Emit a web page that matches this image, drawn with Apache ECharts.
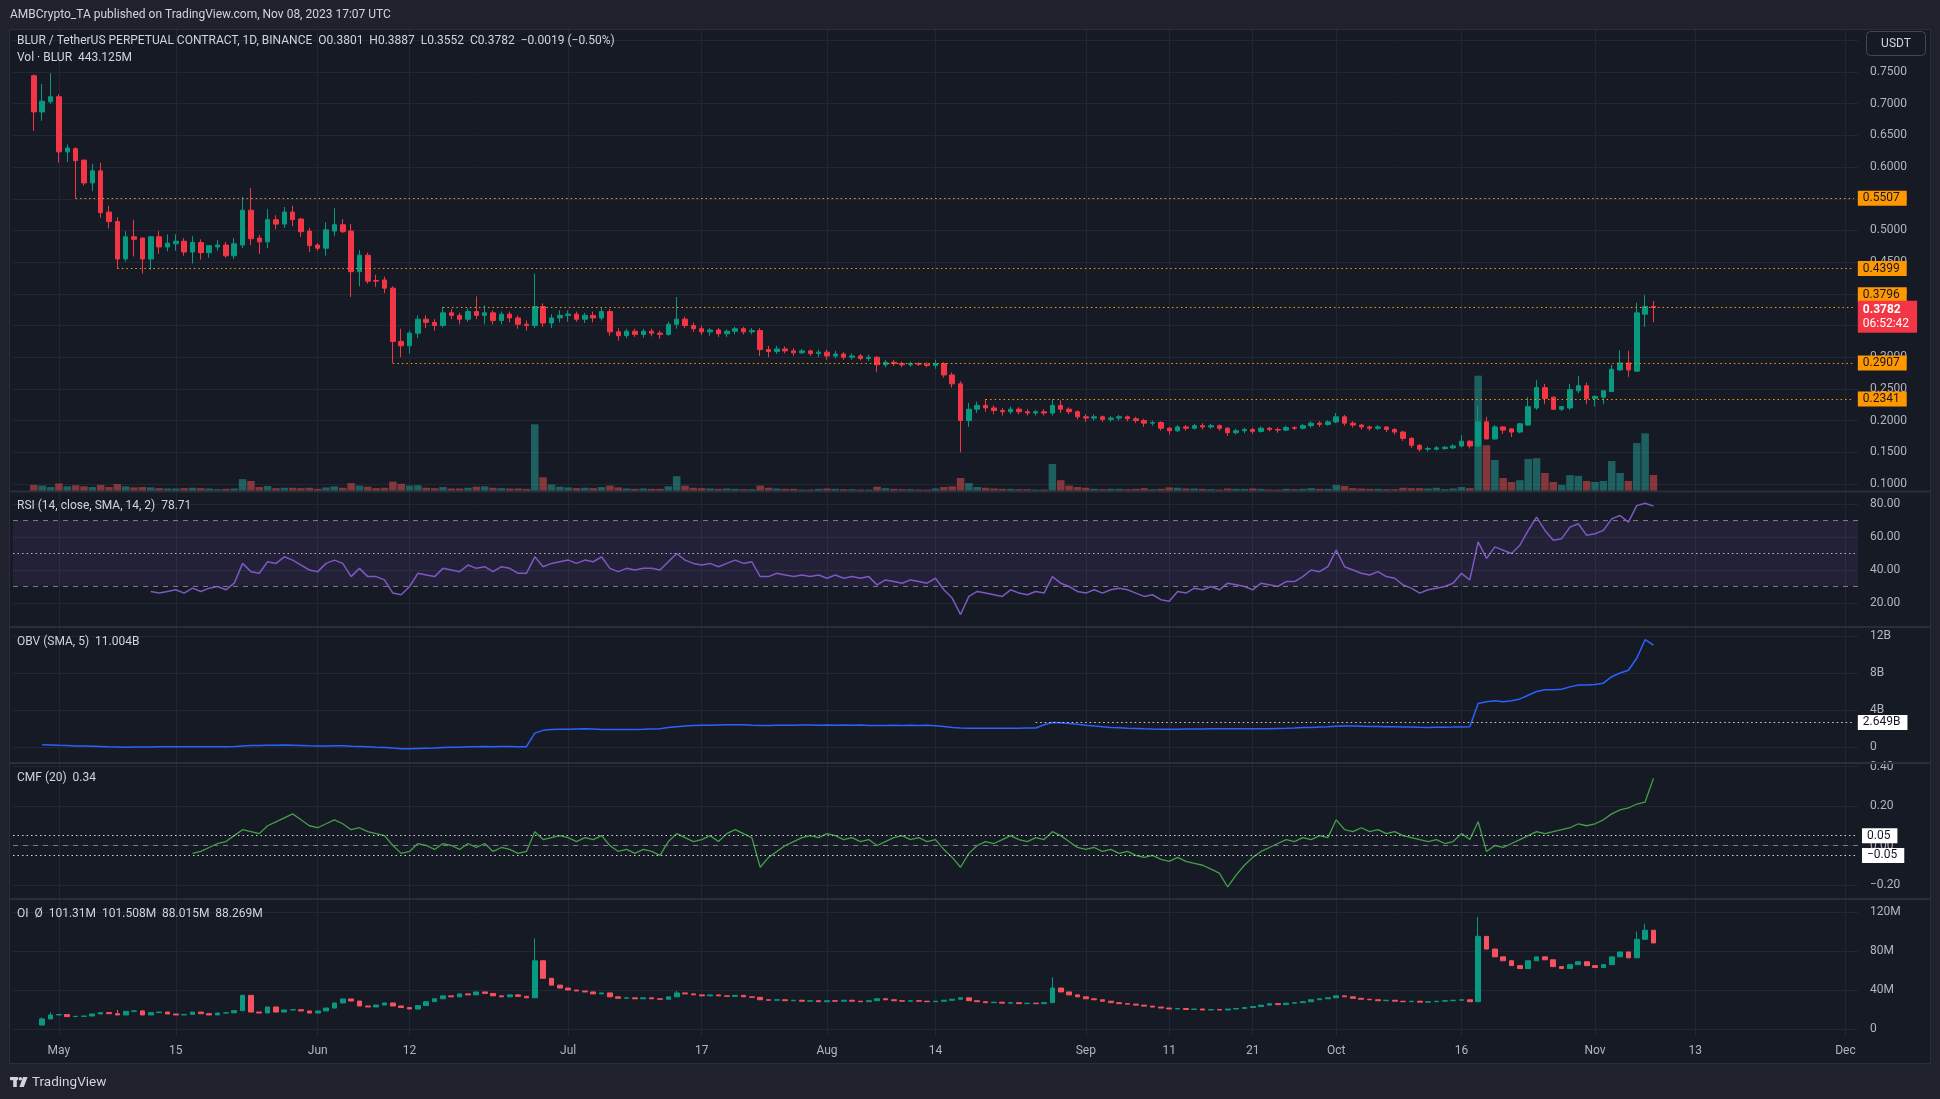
<!DOCTYPE html>
<html><head><meta charset="utf-8">
<script src="https://cdn.jsdelivr.net/npm/echarts@6/dist/echarts.min.js"></script>
<style>html,body{margin:0;padding:0;background:#1f222d;}#c{width:1940px;height:1099px;}</style>
</head><body><div id="c"></div>
<script>
// ---------- axis / category data ----------
const START_DATE = '2023-04-26';
const CATEGORY_COUNT = 221;       // Apr 26 .. Dec 2
const LEAD = 2;                   // empty days before first candle (Apr 28)
const tickLabels = {
  '2023-05-01':'May','2023-05-15':'15','2023-06-01':'Jun','2023-06-12':'12',
  '2023-07-01':'Jul','2023-07-17':'17','2023-08-01':'Aug','2023-08-14':'14',
  '2023-09-01':'Sep','2023-09-11':'11','2023-09-21':'21','2023-10-01':'Oct',
  '2023-10-16':'16','2023-11-01':'Nov','2023-11-13':'13','2023-12-01':'Dec'
};

// ---------- price candles [open, close, low, high], Apr 28 .. Nov 8 ----------
const ohlcApr = [[0.744,0.687,0.657,0.746],[0.687,0.704,0.673,0.731],[0.703,0.711,0.700,0.748]];
const ohlcMay = [[0.711,0.624,0.607,0.715],[0.624,0.630,0.608,0.636],[0.629,0.610,0.5507,0.631],[0.611,0.575,0.571,0.611],[0.575,0.594,0.562,0.605],
 [0.594,0.528,0.520,0.607],[0.529,0.514,0.503,0.539],[0.514,0.455,0.4399,0.521],[0.455,0.490,0.451,0.499],[0.490,0.486,0.459,0.517],
 [0.488,0.455,0.432,0.489],[0.455,0.490,0.438,0.491],[0.490,0.474,0.463,0.499],[0.474,0.480,0.467,0.494],[0.479,0.483,0.468,0.494],
 [0.483,0.466,0.460,0.488],[0.466,0.481,0.448,0.491],[0.481,0.465,0.454,0.486],[0.465,0.476,0.457,0.477],[0.474,0.477,0.468,0.485],
 [0.477,0.460,0.457,0.482],[0.460,0.479,0.455,0.488],[0.477,0.532,0.472,0.553],[0.532,0.487,0.477,0.567],[0.488,0.482,0.463,0.493],
 [0.482,0.517,0.472,0.534],[0.517,0.510,0.502,0.524],[0.510,0.529,0.504,0.537],[0.529,0.517,0.507,0.539],[0.518,0.498,0.490,0.520],
 [0.499,0.476,0.466,0.504]];
const ohlcJun = [[0.477,0.472,0.468,0.480],[0.472,0.501,0.460,0.513],[0.499,0.509,0.491,0.535],[0.509,0.498,0.496,0.518],[0.499,0.435,0.395,0.510],
 [0.435,0.461,0.412,0.469],[0.461,0.420,0.416,0.465],[0.421,0.420,0.411,0.430],[0.422,0.409,0.401,0.427],[0.409,0.325,0.2907,0.412],
 [0.325,0.318,0.300,0.345],[0.318,0.338,0.306,0.342],[0.338,0.360,0.330,0.366],[0.360,0.355,0.346,0.366],[0.355,0.350,0.342,0.360],
 [0.350,0.370,0.347,0.3796],[0.370,0.366,0.360,0.376],[0.366,0.360,0.352,0.370],[0.360,0.372,0.356,0.377],[0.372,0.366,0.360,0.396],
 [0.366,0.370,0.352,0.382],[0.370,0.358,0.352,0.374],[0.358,0.368,0.352,0.372],[0.368,0.362,0.355,0.372],[0.362,0.352,0.345,0.366],
 [0.352,0.350,0.342,0.358],[0.350,0.380,0.346,0.432],[0.380,0.354,0.348,0.385],[0.354,0.362,0.346,0.368],[0.362,0.366,0.355,0.374]];
const ohlcJul = [[0.366,0.368,0.356,0.374],[0.368,0.360,0.356,0.372],[0.360,0.366,0.354,0.370],[0.366,0.362,0.355,0.372],[0.362,0.372,0.358,0.378],
 [0.372,0.340,0.334,0.376],[0.340,0.334,0.326,0.346],[0.334,0.341,0.330,0.345],[0.341,0.336,0.332,0.345],[0.336,0.341,0.331,0.345],
 [0.341,0.338,0.333,0.345],[0.338,0.336,0.329,0.342],[0.336,0.352,0.334,0.356],[0.352,0.360,0.345,0.395],[0.360,0.350,0.346,0.364],
 [0.350,0.345,0.340,0.355],[0.345,0.340,0.335,0.350],[0.340,0.343,0.334,0.346],[0.343,0.337,0.332,0.346],[0.337,0.341,0.332,0.344],
 [0.341,0.345,0.336,0.348],[0.345,0.340,0.336,0.348],[0.340,0.342,0.336,0.346],[0.342,0.312,0.302,0.346],[0.312,0.309,0.300,0.318],
 [0.309,0.313,0.305,0.318],[0.313,0.310,0.306,0.317],[0.310,0.307,0.302,0.314],[0.307,0.310,0.305,0.313],[0.310,0.306,0.302,0.312],
 [0.306,0.308,0.300,0.312]];
const ohlcAug = [[0.308,0.302,0.296,0.312],[0.302,0.305,0.298,0.310],[0.305,0.300,0.296,0.308],[0.300,0.302,0.296,0.306],[0.302,0.298,0.295,0.305],
 [0.298,0.300,0.294,0.304],[0.300,0.288,0.277,0.302],[0.288,0.292,0.284,0.296],[0.292,0.290,0.286,0.296],[0.290,0.288,0.284,0.293],
 [0.288,0.290,0.285,0.293],[0.290,0.289,0.286,0.292],[0.289,0.287,0.284,0.292],[0.287,0.290,0.282,0.296],[0.290,0.272,0.268,0.292],
 [0.272,0.258,0.252,0.276],[0.258,0.200,0.150,0.262],[0.200,0.218,0.190,0.228],[0.218,0.224,0.212,0.230],[0.224,0.220,0.214,0.2341],
 [0.220,0.216,0.210,0.224],[0.216,0.214,0.208,0.220],[0.214,0.218,0.210,0.222],[0.218,0.214,0.210,0.221],[0.214,0.212,0.208,0.218],
 [0.212,0.214,0.208,0.217],[0.214,0.212,0.208,0.218],[0.212,0.224,0.208,0.234],[0.224,0.218,0.212,0.232],[0.218,0.214,0.210,0.221],
 [0.214,0.206,0.202,0.216]];
const ohlcSep = [[0.206,0.204,0.198,0.210],[0.204,0.206,0.200,0.210],[0.206,0.202,0.198,0.208],[0.202,0.204,0.198,0.207],[0.204,0.206,0.200,0.209],
 [0.206,0.203,0.199,0.208],[0.203,0.200,0.196,0.206],[0.200,0.196,0.190,0.203],[0.196,0.197,0.192,0.200],[0.197,0.188,0.184,0.199],
 [0.188,0.184,0.178,0.190],[0.184,0.190,0.182,0.193],[0.190,0.188,0.184,0.193],[0.188,0.192,0.186,0.195],[0.192,0.190,0.186,0.196],
 [0.190,0.192,0.187,0.195],[0.192,0.188,0.184,0.194],[0.188,0.181,0.176,0.190],[0.181,0.184,0.178,0.187],[0.184,0.186,0.180,0.189],
 [0.186,0.183,0.179,0.189],[0.183,0.188,0.181,0.191],[0.188,0.186,0.183,0.190],[0.186,0.185,0.181,0.189],[0.185,0.189,0.183,0.192],
 [0.189,0.188,0.185,0.191],[0.188,0.192,0.186,0.195],[0.192,0.196,0.189,0.199],[0.196,0.194,0.190,0.199],[0.194,0.198,0.192,0.201]];
const ohlcOct = [[0.198,0.206,0.196,0.212],[0.206,0.196,0.192,0.209],[0.196,0.193,0.189,0.199],[0.193,0.190,0.186,0.195],[0.190,0.188,0.184,0.192],
 [0.188,0.190,0.185,0.193],[0.190,0.186,0.182,0.191],[0.186,0.182,0.178,0.188],[0.182,0.172,0.168,0.184],[0.172,0.161,0.157,0.174],
 [0.161,0.155,0.151,0.163],[0.155,0.156,0.151,0.159],[0.155,0.157,0.153,0.160],[0.156,0.158,0.154,0.160],[0.157,0.160,0.155,0.163],
 [0.160,0.1675,0.158,0.177],[0.1675,0.160,0.156,0.169],[0.160,0.198,0.158,0.223],[0.198,0.171,0.170,0.206],[0.171,0.190,0.170,0.193],
 [0.190,0.185,0.179,0.191],[0.187,0.182,0.174,0.188],[0.182,0.195,0.180,0.196],[0.193,0.222,0.192,0.237],[0.220,0.252,0.217,0.264],
 [0.252,0.235,0.226,0.258],[0.237,0.218,0.217,0.238],[0.218,0.222,0.215,0.223],[0.220,0.249,0.217,0.258],[0.247,0.255,0.243,0.270],
 [0.255,0.235,0.226,0.260]];
const ohlcNov = [[0.235,0.238,0.222,0.240],[0.237,0.247,0.226,0.248],[0.246,0.281,0.245,0.288],[0.280,0.291,0.278,0.311],[0.291,0.280,0.269,0.310],
 [0.278,0.370,0.277,0.386],[0.368,0.3801,0.348,0.398],[0.3801,0.3782,0.3552,0.3887]];

// ---------- volume (millions of BLUR) ----------
const volume = [170,150,110,
 210,130,160,130,110,170,110,190,130,100,110,100,80,70,70,80,90,80,70,50,60,70,330,280,110,140,80,90,90,80,90,
 60,100,130,90,220,150,120,80,90,260,200,150,160,90,80,110,70,70,90,120,130,90,80,70,70,60,1850,380,180,120,
 100,80,90,80,110,150,100,70,60,70,60,60,130,410,150,90,80,70,60,70,60,50,50,150,90,70,60,60,40,40,60,
 70,60,50,50,40,40,120,80,60,50,50,40,40,70,110,130,360,220,110,90,70,60,60,50,50,40,40,750,300,150,110,
 90,60,50,60,60,50,60,80,50,60,100,90,70,70,60,50,40,70,60,60,70,60,40,40,60,50,60,80,60,60,
 170,140,80,70,60,60,50,50,90,80,80,70,90,50,70,110,80,3200,1270,860,360,250,300,890,910,500,250,170,440,420,280,
 250,280,830,500,280,1330,1600,443.125];

// ---------- RSI (14) ----------
const rsi = [null,null,null,null,null,null,null,null,null,null,null,null,null,null,
 27,26,27,28,26,29,27,29,30,28,32,44,39,38,45,44,48,46,43,40,
 39,44,46,44,36,41,36,36,34,26,25,30,38,37,36,41,40,39,43,41,42,39,42,41,38,38,48,42,44,45,
 46,44,46,45,48,41,39,41,40,41,41,40,45,50,46,44,43,44,42,44,46,44,45,36,36,38,37,36,37,36,37,
 35,37,35,36,35,36,31,34,33,32,34,33,32,35,28,23,13,24,27,26,25,24,28,26,25,27,26,36,32,30,27,
 26,28,26,28,29,28,26,24,25,22,21,27,26,29,28,30,28,32,31,30,28,32,31,30,33,33,36,40,39,42,
 52,42,40,38,37,39,36,35,31,29,26,28,29,30,32,38,34,57,47,54,52,50,55,64,72,64,58,59,66,68,61,
 62,64,71,73,69,79,80.5,78.71];

// ---------- OBV (SMA 5), billions ----------
const obv = [null,0.25,0.22,
 0.18,0.15,0.12,0.10,0.08,0.06,0.02,0.00,-0.03,0.00,0.01,0.00,0.02,0.03,0.03,0.02,0.03,0.02,0.03,0.04,0.03,0.05,0.12,0.15,0.16,0.20,0.20,0.22,0.20,0.17,0.14,
 0.12,0.12,0.14,0.13,0.08,0.06,0.02,-0.02,-0.05,-0.12,-0.18,-0.20,-0.16,-0.14,-0.12,-0.06,-0.03,-0.02,0.02,0.03,0.05,0.04,0.05,0.06,0.04,0.03,1.50,1.80,1.90,1.92,
 1.92,1.95,1.98,1.95,1.90,1.90,1.88,1.90,1.90,1.92,1.95,1.98,2.10,2.20,2.28,2.32,2.35,2.36,2.38,2.40,2.40,2.40,2.35,2.32,2.33,2.34,2.35,2.36,2.37,2.37,2.36,
 2.37,2.36,2.37,2.36,2.37,2.33,2.32,2.33,2.34,2.33,2.34,2.33,2.34,2.30,2.22,2.10,2.05,2.04,2.03,2.02,2.02,2.03,2.03,2.04,2.05,2.05,2.40,2.65,2.62,2.55,2.45,
 2.35,2.26,2.18,2.12,2.07,2.02,1.99,1.96,1.94,1.93,1.92,1.93,1.94,1.95,1.95,1.96,1.96,1.97,1.97,1.96,1.97,1.98,1.98,2.00,2.02,2.05,2.10,2.12,2.15,2.18,
 2.25,2.28,2.26,2.24,2.22,2.21,2.20,2.19,2.17,2.15,2.13,2.12,2.13,2.14,2.15,2.17,2.18,4.70,4.90,5.00,4.90,5.00,5.20,5.60,6.00,6.20,6.20,6.25,6.50,6.70,6.70,
 6.75,6.90,7.60,8.00,8.30,9.60,11.60,11.004];

// ---------- CMF (20) ----------
const cmf = [null,null,null,null,null,null,null,null,null,null,null,null,null,null,null,null,null,null,null,
 -0.04,-0.03,-0.01,0.01,0.02,0.05,0.08,0.07,0.06,0.10,0.12,0.14,0.16,0.13,0.10,
 0.09,0.11,0.13,0.11,0.08,0.09,0.07,0.06,0.05,0.00,-0.04,-0.03,0.01,0.00,-0.02,0.01,0.00,-0.02,0.01,-0.01,0.01,-0.03,-0.01,-0.02,-0.04,-0.03,0.07,0.03,0.04,0.05,
 0.04,0.02,0.04,0.03,0.05,0.00,-0.03,-0.02,-0.04,-0.02,-0.03,-0.05,0.02,0.06,0.04,0.02,0.03,0.05,0.02,0.06,0.08,0.06,0.04,-0.11,-0.06,-0.03,0.00,0.02,0.04,0.05,0.04,
 0.06,0.05,0.03,0.04,0.02,0.03,0.00,0.02,0.04,0.05,0.03,0.04,0.02,0.03,-0.02,-0.06,-0.11,-0.04,0.00,0.02,0.01,0.03,0.05,0.03,0.02,0.04,0.03,0.07,0.05,0.02,-0.01,
 -0.02,-0.01,-0.03,-0.02,-0.04,-0.03,-0.05,-0.06,-0.05,-0.07,-0.08,-0.06,-0.08,-0.09,-0.10,-0.12,-0.14,-0.21,-0.15,-0.10,-0.06,-0.03,-0.01,0.01,0.03,0.02,0.04,0.03,0.05,0.04,
 0.13,0.08,0.07,0.09,0.07,0.08,0.06,0.07,0.05,0.04,0.03,0.02,0.03,0.01,0.02,0.06,0.03,0.12,-0.03,0.00,-0.01,0.01,0.03,0.05,0.07,0.06,0.07,0.08,0.09,0.11,0.10,
 0.11,0.13,0.16,0.18,0.19,0.21,0.22,0.34];

// ---------- Open interest (millions): closes, first open, wick extremes ----------
const oiFirstOpen = 4.1;
const oiClose = [null,10.3,14.4,
 14.8,12.7,13.0,13.3,15.4,16.8,15.7,14.4,18.1,18.6,14.4,16.8,17.4,15.4,14.4,15.0,17.4,15.7,14.4,16.4,16.6,18.8,34.5,17.4,16.4,22.6,17.4,19.5,19.8,18.5,16.4,
 18.5,21.5,26.7,30.8,28.7,23.6,22.6,24.6,26.7,23.6,22.0,20.5,24.0,28.0,31.0,34.0,33.0,36.0,35.0,38.0,36.5,34.0,33.0,35.0,33.5,32.0,70.0,52.0,45.0,42.0,
 40.0,39.0,38.0,36.0,37.0,33.0,31.5,32.0,31.0,32.0,31.0,30.5,33.0,37.0,36.0,35.0,34.0,35.0,34.0,33.5,34.5,33.0,32.5,30.0,29.5,30.0,29.0,29.5,28.5,29.0,28.0,
 29.0,28.5,29.5,28.5,28.0,29.0,31.0,30.0,29.0,28.5,29.0,28.5,28.0,28.5,29.5,30.5,32.0,29.0,28.0,27.0,27.5,26.5,27.0,26.0,26.5,26.0,27.0,42.0,38.0,35.0,33.0,
 31.0,30.0,28.5,27.0,26.0,25.5,24.5,23.5,22.5,21.5,20.5,21.0,20.0,20.5,19.5,20.0,19.5,20.5,21.0,22.0,23.0,24.5,26.0,25.0,26.5,27.0,28.0,30.0,31.0,32.0,
 34.0,33.0,31.5,30.5,30.0,29.0,29.5,28.5,28.0,28.5,27.5,28.0,28.5,29.0,29.5,30.0,28.0,95.0,82.0,74.0,70.0,65.0,62.0,70.0,74.0,71.0,64.0,62.0,66.0,69.0,65.0,
 63.0,66.0,74.0,79.0,73.0,92.0,101.31,88.269];
const oiHighs = {1:12.0, 2:17.1, 10:19.5, 25:35.2, 60:93.0, 77:39.0, 122:53.0, 173:115.0, 192:100.0, 193:108.0, 194:101.508};
const oiLows = {194:88.015};

// ---------- levels ----------
const priceLevels = [
  {price:0.5507, from:'2023-05-03', dy:0},
  {price:0.4399, from:'2023-05-08', dy:0},
  {price:0.3796, from:'2023-06-16', dy:-12},
  {price:0.2907, from:'2023-06-10', dy:0},
  {price:0.2341, from:'2023-08-20', dy:0}
];
const obvLevel = {value:2.649, from:'2023-08-26'};
const cmfLevels = [0.05, -0.05];
const countdown = '06:52:42';

// ================= build =================
const dates = [];
{ const t0 = Date.parse(START_DATE + 'T00:00:00Z');
  for (let i = 0; i < CATEGORY_COUNT; i++) dates.push(new Date(t0 + i*86400000).toISOString().slice(0,10)); }
const lastCat = dates[dates.length-1];
const ohlc = [].concat(ohlcApr, ohlcMay, ohlcJun, ohlcJul, ohlcAug, ohlcSep, ohlcOct, ohlcNov);
const pad = arr => Array(LEAD).fill('-').concat(arr.map(v => (v === null || v === undefined) ? '-' : v));
const UP = '#089981', DOWN = '#f23645', OI_DOWN = '#f7525f';
const VOL_UP = 'rgba(38,166,154,0.5)', VOL_DOWN = 'rgba(239,83,80,0.5)';
const lastIdx = ohlc.length - 1;
const lastDate = dates[lastIdx + LEAD];
const last = ohlc[lastIdx], prev = ohlc[lastIdx-1];

const volData = pad(ohlc.map((d,i) => ({value: volume[i], itemStyle:{color: d[1] >= d[0] ? VOL_UP : VOL_DOWN}})));
const oiData = pad(oiClose.map((c,i) => {
  if (c === null) return null;
  const o = i === 1 ? oiFirstOpen : oiClose[i-1];
  const h = oiHighs[i] !== undefined ? oiHighs[i] : Math.max(o,c);
  const l = oiLows[i] !== undefined ? oiLows[i] : Math.min(o,c);
  return [o, c, l, h];
}));

const FONT = 'Roboto, "Noto Sans", sans-serif';
const AXIS_TXT = '#b2b5be';
const GRID_LINE = '#232733';
const L = 13, R = 82;
const minus = s => s.replace('-', '\u2212');
const DOT = [1.5, 3];

const grids = [
  {left: L + 4.174, right: R + 4.174, top: 30, bottom: 63},   // 0 background / time axis
  {left: L, right: R, top: 40.3, height: 443.7},              // 1 price
  {left: L, right: R, top: 300, height: 191},                 // 2 volume
  {left: L, right: R, top: 504, height: 99},                  // 3 RSI
  {left: L, right: R, top: 636, height: 111},                 // 4 OBV
  {left: L, right: R, top: 766.5, height: 118.5},             // 5 CMF
  {left: L, right: R, top: 912, height: 117}                  // 6 OI
];
const xAxes = grids.map((g, i) => i === 0 ? {
  type:'category', gridIndex:0, data:dates, boundaryGap:false,
  axisLine:{show:false}, axisTick:{show:false},
  axisLabel:{interval:(idx, v) => v in tickLabels, formatter: v => tickLabels[v] || '', color:AXIS_TXT, fontSize:12, fontFamily:FONT, margin:9},
  splitLine:{show:true, interval:(idx, v) => v in tickLabels, lineStyle:{color:GRID_LINE, width:1}}
} : {type:'category', gridIndex:i, data:dates, boundaryGap:true, show:false});

const yBase = (gi, extra) => Object.assign({
  type:'value', gridIndex:gi, position:'right', scale:false,
  axisLine:{show:false}, axisTick:{show:false},
  splitLine:{show:true, lineStyle:{color:GRID_LINE, width:1}}
}, extra);
const lab = fmt => ({color:AXIS_TXT, fontSize:12, fontFamily:FONT, margin:12, formatter:fmt});
const yAxes = [
  {type:'value', gridIndex:0, show:false},
  yBase(1, {min:0.1, max:0.8, interval:0.05, axisLabel:lab(v => v > 0.79 ? '' : v.toFixed(4))}),
  {type:'value', gridIndex:2, show:false, min:0, max:5300},
  yBase(3, {min:20, max:80, interval:20, axisLabel:lab(v => v.toFixed(2))}),
  yBase(4, {min:0, max:12, interval:4, axisLabel:lab(v => v === 0 ? '0' : v + 'B')}),
  yBase(5, {min:-0.2, max:0.4, interval:0.2, axisLabel:lab(v => minus(v.toFixed(2)))}),
  yBase(6, {min:0, max:120, interval:40, axisLabel:lab(v => v === 0 ? '0' : v + 'M')})
];

const boxLabel = (text, bg, fg, dy) => ({show:true, position:'end', distance:4, formatter:text, backgroundColor:bg, color:fg,
  fontSize:12, fontFamily:FONT, padding:[2,7,1,5], offset:[0, dy || 0]});

const priceMarks = priceLevels.map(l => [
  {coord:[l.from, l.price], lineStyle:{color:'#ff9800', type:DOT, width:1}, label: boxLabel(l.price.toFixed(4), '#ff9800', '#131722', l.dy)},
  {coord:[lastCat, l.price]}
]);
priceMarks.push([
  {coord:[lastDate, last[1]], lineStyle:{color:'rgba(0,0,0,0)', width:1}, label:{show:true, position:'end', distance:4, offset:[0,9],
    formatter:'{p|' + last[1].toFixed(4) + '}\n{t|' + countdown + '}', backgroundColor:DOWN, padding:[2,8,2,5],
    rich:{p:{color:'#ffffff', fontSize:12, fontWeight:'bold', fontFamily:FONT, lineHeight:14}, t:{color:'#ffffff', fontSize:12, fontFamily:FONT, lineHeight:14}}}},
  {coord:[lastCat, last[1]]}
]);

const series = [
  {type:'bar', name:'vol', xAxisIndex:2, yAxisIndex:2, data:volData, barWidth:'90%', z:1, silent:true},
  {type:'candlestick', name:'price', xAxisIndex:1, yAxisIndex:1, data:pad(ohlc), barWidth:'60%', z:3,
   itemStyle:{color:UP, color0:DOWN, borderColor:UP, borderColor0:DOWN, borderWidth:1},
   markLine:{symbol:['none','none'], silent:true, animation:false, z:10, data:priceMarks}},
  {type:'line', name:'rsi', xAxisIndex:3, yAxisIndex:3, data:pad(rsi), showSymbol:false, symbol:'none', clip:false,
   lineStyle:{color:'#7e57c2', width:1.5},
   markArea:{silent:true, itemStyle:{color:'rgba(126,87,194,0.12)'}, data:[[{yAxis:30},{yAxis:70}]]},
   markLine:{symbol:['none','none'], silent:true, label:{show:false}, data:[
     {yAxis:70, lineStyle:{color:'#787b86', type:[5,5], width:1}},
     {yAxis:30, lineStyle:{color:'#787b86', type:[5,5], width:1}},
     {yAxis:50, lineStyle:{color:'#b2b5be', type:DOT, width:1}}]}},
  {type:'line', name:'obv', xAxisIndex:4, yAxisIndex:4, data:pad(obv), showSymbol:false, symbol:'none', clip:false,
   lineStyle:{color:'#2962ff', width:1.5},
   markLine:{symbol:['none','none'], silent:true, data:[[
     {coord:[obvLevel.from, obvLevel.value], lineStyle:{color:'#d1d4dc', type:DOT, width:1}, label: boxLabel(obvLevel.value.toFixed(3) + 'B', '#ffffff', '#131722', 0)},
     {coord:[lastCat, obvLevel.value]}]]}},
  {type:'line', name:'cmf', xAxisIndex:5, yAxisIndex:5, data:pad(cmf), showSymbol:false, symbol:'none', clip:false,
   lineStyle:{color:'#43a047', width:1.3},
   markLine:{symbol:['none','none'], silent:true, data:[
     {yAxis:0, lineStyle:{color:'#787b86', type:[5,5], width:1}, label:{show:false}},
     ...cmfLevels.map(v => ({yAxis:v, lineStyle:{color:'#d1d4dc', type:DOT, width:1}, label: boxLabel(minus(v.toFixed(2)), '#ffffff', '#131722', 0)}))]}},
  {type:'candlestick', name:'oi', xAxisIndex:6, yAxisIndex:6, data:oiData, barWidth:'62%', z:3,
   itemStyle:{color:UP, color0:OI_DOWN, borderColor:UP, borderColor0:OI_DOWN, borderWidth:1}}
];

// ---------- legend texts ----------
const f4 = v => v.toFixed(4);
const chg = last[1] - prev[1];
const pct = chg / prev[1] * 100;
const sgn = v => (v < 0 ? '\u2212' : '+') + Math.abs(v).toFixed(4);
const fmtM = v => v.toFixed(3).replace(/0+$/,'').replace(/\.$/,'') + 'M';
const oiLast = oiData[oiData.length-1];
const TXT = '#d1d4dc';
const FS = 12;
const txt = (x, y, text, rich, size) => ({type:'text', x, y, z:120, silent:true,
  style:{text, rich, fill:TXT, font: (size||FS) + 'px ' + FONT, verticalAlign:'middle'}});
const rich = c => ({t:{color:TXT, fontSize:FS, fontFamily:FONT}, v:{color:c, fontSize:FS, fontFamily:FONT}});

const graphic = [
  {type:'rect', z:100, silent:true, shape:{x:0,y:0,width:1940,height:29}, style:{fill:'#1f222d'}},
  {type:'rect', z:100, silent:true, shape:{x:0,y:1064,width:1940,height:35}, style:{fill:'#1f222d'}},
  {type:'rect', z:100, silent:true, shape:{x:0,y:0,width:9,height:1099}, style:{fill:'#1f222d'}},
  {type:'rect', z:100, silent:true, shape:{x:1931,y:0,width:9,height:1099}, style:{fill:'#1f222d'}},
  {type:'rect', z:101, silent:true, shape:{x:9.5,y:29.5,width:1921,height:1034}, style:{fill:null, stroke:'#2a2e39', lineWidth:1}},
  ...[491.5, 627, 763, 899].map(y => ({type:'line', z:101, silent:true, shape:{x1:10,y1:y,x2:1930,y2:y}, style:{stroke:'#2a2e39', lineWidth:2}})),
  {type:'rect', z:101, silent:true, shape:{x:1866.5,y:31.5,width:59,height:24,r:4}, style:{fill:'#161a25', stroke:'#434651', lineWidth:1}},
  {type:'text', z:102, silent:true, style:{text:'USDT', x:1896, y:43.5, align:'center', verticalAlign:'middle', fill:TXT, font:'12px ' + FONT}},
  txt(10, 15, 'AMBCrypto_TA published on TradingView.com, Nov 08, 2023 17:07 UTC', null, 12),
  txt(17, 41, '{t|BLUR / TetherUS PERPETUAL CONTRACT, 1D, BINANCE  O}{v|' + f4(last[0]) + '}{t|  H}{v|' + f4(last[3]) + '}{t|  L}{v|' + f4(last[2]) +
     '}{t|  C}{v|' + f4(last[1]) + '  ' + sgn(chg) + ' (' + (pct < 0 ? '\u2212' : '+') + Math.abs(pct).toFixed(2) + '%)}', rich(DOWN)),
  txt(17, 58, '{t|Vol \u00b7 BLUR  }{v|' + fmtM(volume[lastIdx]) + '}', rich(DOWN)),
  txt(17, 506, '{t|RSI (14, close, SMA, 14, 2)  }{v|' + rsi[lastIdx].toFixed(2) + '}', rich('#7e57c2')),
  txt(17, 642, '{t|OBV (SMA, 5)  }{v|' + obv[lastIdx].toFixed(3) + 'B}', rich('#2962ff')),
  txt(17, 778, '{t|CMF (20)  }{v|' + cmf[lastIdx].toFixed(2) + '}', rich('#43a047')),
  txt(17, 914, '{t|OI  \u00d8  }{v|' + [oiLast[0], oiLast[3], oiLast[2], oiLast[1]].map(fmtM).join('  ') + '}', rich(OI_DOWN)),
  // TradingView logo
  {type:'rect', z:102, silent:true, shape:{x:10,y:1077,width:8,height:3.2}, style:{fill:TXT}},
  {type:'rect', z:102, silent:true, shape:{x:13.2,y:1077,width:3.6,height:10}, style:{fill:TXT}},
  {type:'circle', z:102, silent:true, shape:{cx:20.3,cy:1078.8,r:1.8}, style:{fill:TXT}},
  {type:'polygon', z:102, silent:true, shape:{points:[[23,1077],[27.6,1077],[23.8,1087],[19.4,1087]]}, style:{fill:TXT}},
  txt(32, 1082.5, 'TradingView', null, 13.5)
];

const chart = echarts.init(document.getElementById('c'), null, {renderer:'canvas'});
chart.setOption({
  backgroundColor:'#161a25', animation:false,
  grid:grids, xAxis:xAxes, yAxis:yAxes, series, graphic
});
</script></body></html>
